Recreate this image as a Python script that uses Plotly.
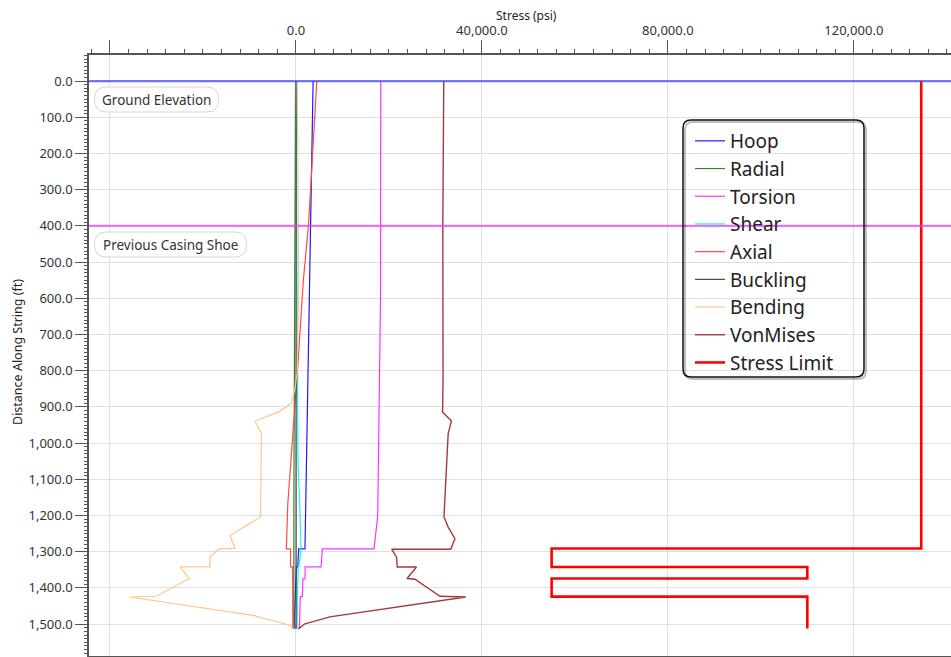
import plotly.graph_objects as go

# ---------------- data ----------------
hoop_depth = [0, 400, 770, 1170, 1292, 1292, 1342, 1342, 1375, 1424, 1480, 1513]
hoop_val = [3700, 3150, 2650, 2000, 1950, 600, 400, 100, 0, -200, -300, -200]

radial_depth = [0, 550, 1160, 1513]
radial_val = [-80, -280, -430, -450]

torsion_depth = [0, 600, 1200, 1292, 1292, 1342, 1342, 1375, 1375, 1424, 1424, 1513]
torsion_val = [18250, 18200, 17600, 16800, 5700, 5400, 2000, 1950, 1500, 1400, 950, 750]

shear_depth = [0, 400, 800, 1050, 1160, 1292, 1292, 1342, 1342, 1424, 1513]
shear_val = [0, 150, 300, 450, 800, 1100, 1100, 650, 500, 350, 250]

axial_depth = [0, 400, 550, 770, 1170, 1292, 1292, 1342, 1342, 1513]
axial_val = [4500, 2700, 1600, 500, -1750, -2050, -1150, -1150, -700, -650]

buckling_depth = [0, 1513]
buckling_val = [50, 50]

bending_depth = [0, 550, 800, 850, 890, 915, 939, 974, 1204, 1255, 1291, 1293, 1315, 1342,
                 1342, 1374, 1398, 1423, 1425, 1476, 1503, 1513]
bending_val = [300, 600, 300, -200, -1000, -3900, -8800, -7400, -7600, -14200, -13100, -16700,
               -18500, -18500, -24900, -22900, -26400, -30000, -35800, -9200, -1300, -600]

vonmises_depth = [0, 400, 826, 914, 939, 974, 1204, 1232, 1264, 1293, 1293, 1315, 1342, 1342,
                  1374, 1376, 1423, 1425, 1480, 1499, 1513]
vonmises_val = [31800, 31600, 31650, 31550, 33450, 32750, 31850, 32750, 34200, 33300, 20600,
                21650, 21800, 25950, 23900, 25600, 31000, 36550, 7300, 1950, 500]

limit_depth = [0, 1291, 1291, 1342, 1342, 1374, 1374, 1424, 1424, 1512]
limit_val = [134500, 134500, 55000, 55000, 110000, 110000, 55000, 55000, 110000, 110000]

ref_names = ["Ground Elevation", "Previous Casing Shoe"]
ref_depths = [0, 400]

x_tickvals = [-40000, 0, 40000, 80000, 120000]
x_ticktext = ["", "0.0", "40,000.0", "80,000.0", "120,000.0"]

# ---------------- figure ----------------
W, H = 951, 657
L, R, T, B = 89, 0, 55, 1
PW, PH = W - L - R, H - T - B
FONT = "Noto Sans"


def pxx(px):
    return (px - L) / PW


def pxy(py):
    return (H - B - py) / PH


def rrect(w, h, r):
    x0, x1 = -w / 2, w / 2
    y0, y1 = -h / 2, h / 2
    return (f"M{x0 + r},{y0} L{x1 - r},{y0} Q{x1},{y0} {x1},{y0 + r} L{x1},{y1 - r} "
            f"Q{x1},{y1} {x1 - r},{y1} L{x0 + r},{y1} Q{x0},{y1} {x0},{y1 - r} "
            f"L{x0},{y0 + r} Q{x0},{y0} {x0 + r},{y0} Z")


series = [
    ("Hoop", hoop_val, hoop_depth, "#1a1aff", 1.2),
    ("Radial", radial_val, radial_depth, "#2a8a2a", 1.2),
    ("Torsion", torsion_val, torsion_depth, "#ff33ff", 1.2),
    ("Shear", shear_val, shear_depth, "#22eeee", 1.2),
    ("Axial", axial_val, axial_depth, "#ff4a4a", 1.2),
    ("Buckling", buckling_val, buckling_depth, "#444444", 1.2),
    ("Bending", bending_val, bending_depth, "#ffc58f", 1.2),
    ("VonMises", vonmises_val, vonmises_depth, "#a33a3a", 1.4),
    ("Stress Limit", limit_val, limit_depth, "#ff0000", 2.6),
]

fig = go.Figure()
for name, xv, yv, color, w in series:
    fig.add_trace(go.Scatter(x=xv, y=yv, mode="lines", name=name,
                             line=dict(color=color, width=w)))

XR = [-44500, 140900]
YR = [1588, -72]
axcol = "#555555"

shapes = []
ref_colors = ["rgba(60,60,255,0.7)", "rgba(235,60,235,0.7)"]
for d, c in zip(ref_depths, ref_colors):
    shapes.append(dict(type="line", xref="paper", yref="y", x0=0, x1=1, y0=d, y1=d,
                       line=dict(color=c, width=2.2), layer="above"))

# label boxes
label_boxes = [(156.5, 99.5, 124, 25), (170.5, 244.5, 152, 25)]
annotations = []
for (cx, cy, bw, bh), txt in zip(label_boxes, ref_names):
    shapes.append(dict(type="path", xref="paper", yref="paper", xsizemode="pixel",
                       ysizemode="pixel", xanchor=pxx(cx), yanchor=pxy(cy),
                       path=rrect(bw, bh, 12), fillcolor="white",
                       line=dict(color="#d6d6d6", width=1), layer="above"))
    annotations.append(dict(text=txt, xref="paper", yref="paper", x=pxx(cx), y=pxy(cy),
                            xanchor="center", yanchor="middle", showarrow=False,
                            font=dict(family=FONT, size=13.5, color="#333333")))

# legend frame + shadow
shapes.append(dict(type="path", xref="paper", yref="paper", xsizemode="pixel",
                   ysizemode="pixel", xanchor=pxx(775.5), yanchor=pxy(250.5),
                   path=rrect(181, 257, 8), line=dict(color="rgba(0,0,0,0.25)", width=2),
                   layer="above"))
shapes.append(dict(type="path", xref="paper", yref="paper", xsizemode="pixel",
                   ysizemode="pixel", xanchor=pxx(773.5), yanchor=pxy(248.5),
                   path=rrect(181, 257, 8), line=dict(color="#111111", width=1.5),
                   layer="above"))

annotations.append(dict(text="Stress (psi)", xref="paper", yref="paper", x=pxx(526),
                        y=pxy(15), xanchor="center", yanchor="middle", showarrow=False,
                        font=dict(family=FONT, size=12, color="#222222")))
annotations.append(dict(text="Distance Along String (ft)", xref="paper", yref="paper",
                        x=pxx(17), y=pxy(352), xanchor="center", yanchor="middle",
                        textangle=-90, showarrow=False,
                        font=dict(family=FONT, size=12.5, color="#222222")))

fig.update_layout(
    width=W, height=H,
    margin=dict(l=L, r=R, t=T, b=B, pad=0),
    paper_bgcolor="white", plot_bgcolor="white",
    font=dict(family=FONT, size=13, color="#333333"),
    showlegend=True,
    legend=dict(x=pxx(690), y=pxy(122), xanchor="left", yanchor="top",
                bgcolor="rgba(0,0,0,0)", borderwidth=0,
                font=dict(family=FONT, size=19, color="#222222"),
                tracegroupgap=0),
    shapes=shapes,
    annotations=annotations,
    xaxis=dict(side="top", range=XR, autorange=False, tickmode="array",
               tickvals=x_tickvals, ticktext=x_ticktext, ticks="outside", ticklen=13,
               tickcolor=axcol, tickwidth=1, showline=True, linecolor=axcol, linewidth=1.5,
               mirror=True, showgrid=True, gridcolor="#e0e0e0", gridwidth=1.2,
               zeroline=False, tickfont=dict(size=13, color="#333333"),
               minor=dict(tickmode="linear", tick0=0, dtick=4000, ticks="outside",
                          ticklen=4, tickcolor=axcol, showgrid=False)),
    xaxis2=dict(overlaying="x", anchor="y", side="top", range=XR, autorange=False,
                tickmode="linear", tick0=0, dtick=20000, ticks="outside", ticklen=8,
                tickcolor=axcol, showticklabels=False, showgrid=False, showline=False,
                zeroline=False),
    yaxis=dict(range=YR, autorange=False, tickmode="linear", tick0=0, dtick=100,
               tickformat=",.1f", ticks="outside", ticklen=12, tickcolor=axcol,
               showline=True, linecolor=axcol, linewidth=1.5, showgrid=True,
               gridcolor="#e0e0e0", gridwidth=1.2, zeroline=False,
               tickfont=dict(size=13, color="#333333"),
               minor=dict(tickmode="linear", tick0=0, dtick=10, ticks="outside",
                          ticklen=3, tickcolor=axcol, showgrid=False)),
    yaxis2=dict(overlaying="y", anchor="x", side="left", range=YR, autorange=False,
                tickmode="linear", tick0=50, dtick=100, ticks="outside", ticklen=6,
                tickcolor=axcol, showticklabels=False, showgrid=False, showline=False,
                zeroline=False),
)

fig.write_html("out.html")
